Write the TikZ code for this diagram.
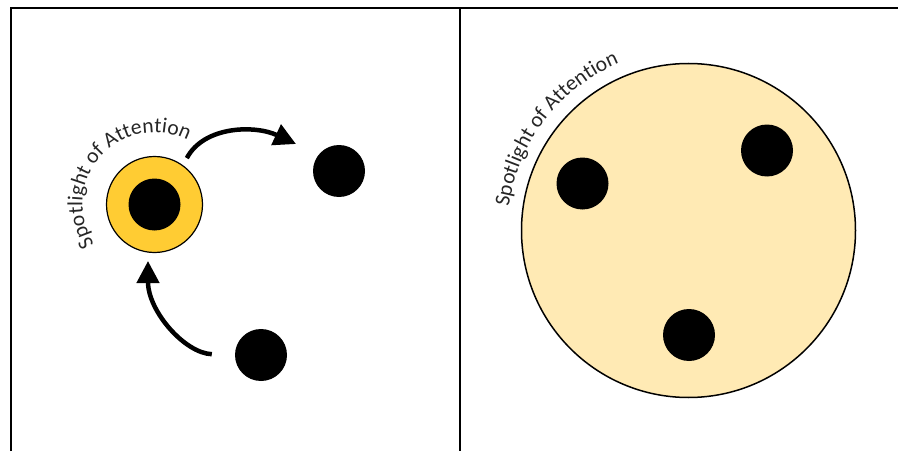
\documentclass[tikz,border=0pt]{standalone}
\usepackage{fontspec}
\setmainfont{Carlito}
\usepackage{xcolor}
\usetikzlibrary{arrows.meta,calc,decorations.text}
\definecolor{ringyellow}{RGB}{255,204,51}
\definecolor{spotyellow}{RGB}{255,234,180}
\tikzset{
  framerule/.style={line width=2pt, draw=black},
  dotnode/.style={circle, fill=black, minimum size=52pt, inner sep=0pt},
  ringnode/.style={circle, draw=black, line width=1.2pt, fill=ringyellow, minimum size=96pt, inner sep=0pt},
  spotnode/.style={circle, draw=black, line width=1.5pt, fill=spotyellow, minimum size=334pt, inner sep=0pt},
  movearc/.style={-{Triangle[length=22pt, width=22pt]}, line width=4.5pt},
  spotlabel/.style={decorate, decoration={text along path, text align=center,
      text={|\fontsize{21.5}{25}\selectfont\color{black!85}|Spotlight of Attention}}}
}

\begin{document}
\begin{tikzpicture}[x=1pt, y=1pt]
  \useasboundingbox (0,0) rectangle (898,451);
  % frame
  \draw[framerule] (11,0) -- (11,443) -- (898,443);
  \draw[framerule] (460,443) -- (460,0);

  % left panel: attention moves from dot to dot
  \node[ringnode] (ring) at (154.5,246.5) {};
  \node[dotnode] (ringdot) at (ring) {};
  \node[dotnode] (dota) at (339,280) {};
  \node[dotnode] (dotb) at (261,96) {};
  \coordinate (tipa) at (296,307);
  \coordinate (tipb) at (148,190);
  \draw[movearc, shorten <=8pt] (ring.54) to[out=62, in=155] (tipa);
  \draw[movearc, shorten <=23pt] (dotb.west) to[out=178, in=-90] (tipb);
  \path[spotlabel] ($(ring)+(238:72)$) arc[start angle=238, end angle=38, radius=72];

  % right panel: wide spotlight
  \node[spotnode] (spot) at (688.5,220.5) {};
  \node[dotnode] (dotc) at (582.5,267.5) {};
  \node[dotnode] (dotd) at (767,300.5) {};
  \node[dotnode] (dote) at (689,116) {};
  \path[spotlabel] ($(spot)+(183:181)$) arc[start angle=183, end angle=102, radius=181];
\end{tikzpicture}
\end{document}
